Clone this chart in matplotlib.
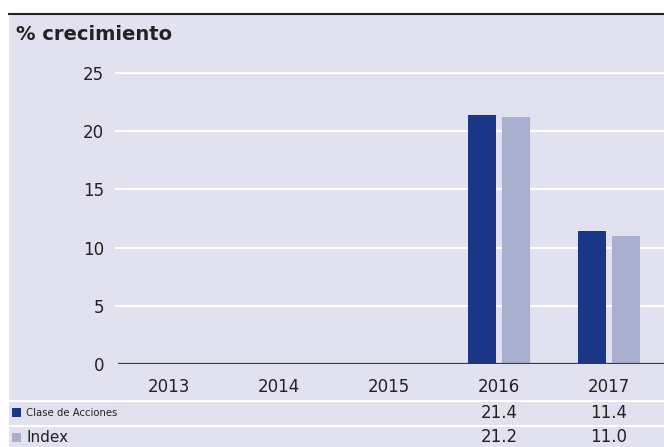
import matplotlib
matplotlib.use("Agg")
import matplotlib.pyplot as plt
import numpy as np
from matplotlib.transforms import blended_transform_factory

# Data
years = ["2013", "2014", "2015", "2016", "2017"]
clase = [np.nan, np.nan, np.nan, 21.4, 11.4]
index = [np.nan, np.nan, np.nan, 21.2, 11.0]
series_names = ["Clase de Acciones", "Index"]
yticks = [0, 5, 10, 15, 20, 25]

BG = "#e1e1ef"
DARK = "#1b3587"
LIGHT = "#aaafd0"
TXT = "#222222"

W, H = 664, 447
fig = plt.figure(figsize=(W / 100, H / 100), dpi=100)
fig.patch.set_facecolor("white")

# background panel
fig.patches.append(plt.Rectangle((9 / W, 0), 1 - 9 / W, 1 - 14 / H, transform=fig.transFigure,
                                 facecolor=BG, edgecolor="none", zorder=-10))
fig.add_artist(plt.Line2D([9 / W, 1], [1 - 13.5 / H, 1 - 13.5 / H], color="#222222", lw=1.5,
                          transform=fig.transFigure))

# axes geometry: y=0 at px 364, 11.64 px / unit
y0px = 364
ppu = 11.64
ytop = 26
ax_bottom = (H - y0px) / H
ax_height = ytop * ppu / H
ax_left = 118 / W
ax = fig.add_axes([ax_left, ax_bottom, 1 - ax_left, ax_height])
ax.set_facecolor("none")
ax.set_ylim(0, ytop)
ax.set_xlim(-0.46, 4.5)

x = np.arange(len(years))
bw = 0.255
off = 0.155
ax.bar(x - off, clase, width=bw, color=DARK, zorder=3)
ax.bar(x + off, index, width=bw, color=LIGHT, zorder=3)

for t in yticks[1:]:
    ax.axhline(t, color="white", lw=1.6, zorder=1, xmin=-0.004, clip_on=False)
ax.axhline(0, color="#3a3a3a", lw=1.6, zorder=4)

for s in ax.spines.values():
    s.set_visible(False)
ax.set_yticks(yticks)
ax.set_yticklabels([str(t) for t in yticks], fontsize=12, color=TXT)
ax.tick_params(axis="y", length=0, pad=10)
ax.set_xticks(x)
ax.set_xticklabels(years, fontsize=12, color=TXT)
ax.tick_params(axis="x", length=0, pad=10)

# title
fig.text(16 / W, 1 - 34 / H, "% crecimiento", fontsize=14, fontweight="bold", color=TXT,
         va="center", ha="left")

# table separators
for ypx in [400.5, 425.5]:
    fig.add_artist(plt.Line2D([9 / W, 1], [1 - ypx / H, 1 - ypx / H], color="white", lw=1.5,
                              transform=fig.transFigure))

trans = blended_transform_factory(ax.transData, fig.transFigure)
rows = [(series_names[0], clase, DARK, 413, 7.3, 412.5), (series_names[1], index, LIGHT, 437, 11, 437.5)]
for name, vals, col, ypx, fs, sqy in rows:
    fig.patches.append(plt.Rectangle((11.7 / W, 1 - (sqy + 4.7) / H), 9.3 / W, 9.4 / H,
                                     transform=fig.transFigure, facecolor=col, edgecolor="none"))
    fig.text(26.5 / W, 1 - ypx / H, name, fontsize=fs, color=TXT, va="center", ha="left")
    for xi, v in zip(x, vals):
        if not np.isnan(v):
            fig.text(xi, 1 - ypx / H, f"{v:.1f}", transform=trans, fontsize=12, color=TXT,
                     va="center", ha="center")

fig.savefig("out.png", dpi=100, facecolor=fig.get_facecolor())
